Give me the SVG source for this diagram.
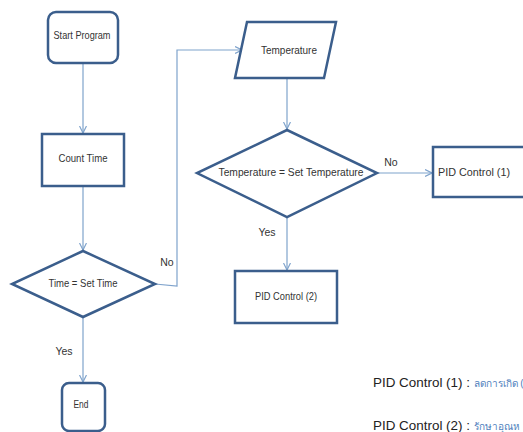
<svg xmlns="http://www.w3.org/2000/svg" width="523" height="432" viewBox="0 0 523 432">
<style>
.n{fill:#fff;stroke:#3B5E8C;stroke-width:2.5}
.c{fill:none;stroke:#7FA3CC;stroke-width:1.2}
.t{font-family:"Liberation Sans","DejaVu Sans",sans-serif;font-size:11px;fill:#333;text-anchor:middle;dominant-baseline:central}
.l{font-family:"Liberation Sans","DejaVu Sans",sans-serif;font-size:10.5px;fill:#333;text-anchor:middle;dominant-baseline:central}
.b{font-family:"Liberation Sans","DejaVu Sans",sans-serif;font-size:13.5px;fill:#222}
.th{font-family:"Noto Sans","DejaVu Sans",sans-serif;font-size:10px;fill:#4F81BD}
</style>
<defs>
<marker id="a" markerWidth="8" markerHeight="8" refX="7" refY="4" orient="auto" markerUnits="userSpaceOnUse">
<path d="M0,0.5 L7,4 L0,7.5" fill="none" stroke="#7FA3CC" stroke-width="1.2"/>
</marker>
</defs>
<rect width="523" height="432" fill="#fff"/>
<g id="connectors">
<line class="c" x1="83" y1="63" x2="83" y2="133" marker-end="url(#a)"/>
<line class="c" x1="83" y1="186" x2="83" y2="250" marker-end="url(#a)"/>
<line class="c" x1="83" y1="317" x2="83" y2="382" marker-end="url(#a)"/>
<polyline class="c" points="155,284 177,286 177,50 242,50" marker-end="url(#a)"/>
<line class="c" x1="287" y1="78" x2="287" y2="129" marker-end="url(#a)"/>
<line class="c" x1="377" y1="173" x2="432" y2="173" marker-end="url(#a)"/>
<line class="c" x1="287" y1="217" x2="287" y2="270" marker-end="url(#a)"/>
<text class="l" x="167" y="262">No</text>
<text class="l" x="64" y="351">Yes</text>
<text class="l" x="391" y="162">No</text>
<text class="l" x="267" y="232">Yes</text>
</g>
<g id="start">
<rect class="n" x="48" y="12" width="70" height="51" rx="8"/>
<text class="t" x="82" y="35" textLength="57" lengthAdjust="spacingAndGlyphs">Start Program</text>
</g>
<g id="count">
<rect class="n" x="42" y="134" width="82" height="52"/>
<text class="t" x="83" y="158" textLength="49" lengthAdjust="spacingAndGlyphs">Count Time</text>
</g>
<g id="timecheck">
<polygon class="n" points="83,251 155,284 83,317 12,284"/>
<text class="t" x="83" y="283" textLength="69" lengthAdjust="spacingAndGlyphs">Time = Set Time</text>
</g>
<g id="end">
<rect class="n" x="62" y="383" width="43" height="48" rx="7"/>
<text class="t" x="81" y="404" textLength="15" lengthAdjust="spacingAndGlyphs">End</text>
</g>
<g id="temperature">
<polygon class="n" points="247,22 336,22 324,78 235,78"/>
<text class="t" x="289" y="50" textLength="56" lengthAdjust="spacingAndGlyphs">Temperature</text>
</g>
<g id="tempcheck">
<polygon class="n" points="287,130 377,173 287,217 197,173"/>
<text class="t" x="291" y="172" textLength="145" lengthAdjust="spacingAndGlyphs">Temperature = Set Temperature</text>
</g>
<g id="pid1">
<rect class="n" x="433" y="147" width="100" height="50"/>
<text class="t" x="474" y="172" textLength="72" lengthAdjust="spacingAndGlyphs">PID Control (1)</text>
</g>
<g id="pid2">
<rect class="n" x="235" y="271" width="102" height="52"/>
<text class="t" x="286" y="296" textLength="62" lengthAdjust="spacingAndGlyphs">PID Control (2)</text>
</g>
<g id="notes">
<text class="b" x="373" y="387" textLength="97" lengthAdjust="spacingAndGlyphs">PID Control (1) :</text>
<text class="th" x="474" y="387">ลดการเกิด (</text>
<text class="b" x="373" y="430" textLength="97" lengthAdjust="spacingAndGlyphs">PID Control (2) :</text>
<text class="th" x="474" y="430">รักษาอุณห</text>
</g>
</svg>
